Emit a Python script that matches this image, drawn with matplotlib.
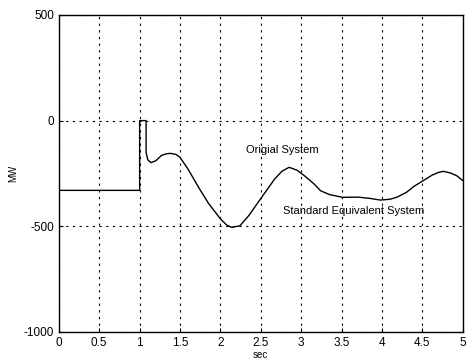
import matplotlib.pyplot as plt

plt.rcParams['font.family'] = ['Liberation Sans', 'DejaVu Sans']

t = [0, 1.0, 1.0, 1.08, 1.08, 1.1, 1.14, 1.2, 1.27, 1.33, 1.38, 1.45, 1.5, 1.6,
     1.73, 1.85, 2.0, 2.08, 2.14, 2.24, 2.35, 2.51, 2.67, 2.76, 2.85, 2.95,
     3.04, 3.16, 3.24, 3.35, 3.51, 3.7, 3.85, 3.98, 4.1, 4.18, 4.3, 4.4,
     4.51, 4.62, 4.7, 4.76, 4.85, 4.93, 5.0]
mw = [-330, -330, 0, 0, -150, -185, -199, -190, -165, -157, -155, -160, -174, -230,
      -316, -390, -465, -495, -505, -498, -450, -363, -277, -240, -221, -235,
      -261, -300, -332, -350, -363, -362, -368, -376, -372, -363, -340, -310,
      -284, -258, -245, -240, -248, -262, -284]

xticks = [0, 0.5, 1, 1.5, 2, 2.5, 3, 3.5, 4, 4.5, 5]
xticklabels = ['0', '0.5', '1', '1.5', '2', '2.5', '3', '3.5', '4', '4.5', '5']
yticks = [-1000, -500, 0, 500]
yticklabels = ['-1000', '-500', '0', '500']

fig = plt.figure(figsize=(4.67, 3.64), dpi=100)
ax = fig.add_axes([0.126, 0.088, 0.865, 0.871])

ax.plot(t, mw, color='black', linewidth=1.0)

ax.set_xlim(0, 5)
ax.set_ylim(-1000, 500)
ax.set_xticks(xticks)
ax.set_xticklabels(xticklabels)
ax.set_yticks(yticks)
ax.set_yticklabels(yticklabels)
ax.tick_params(direction='in', labelsize=8.5, length=3)
ax.grid(True, color='black', linestyle=(0, (2, 4)), linewidth=0.8)

ax.text(2.32, -137, 'Origial System', fontsize=8, va='center')
ax.text(2.77, -427, 'Standard Equivalent System', fontsize=8, va='center')

ax.set_xlabel('sec', fontsize=7, labelpad=1)
ax.set_ylabel('MW', fontsize=7, labelpad=4)

for s in ax.spines.values():
    s.set_linewidth(1.0)

fig.savefig('out.png', dpi=100)
